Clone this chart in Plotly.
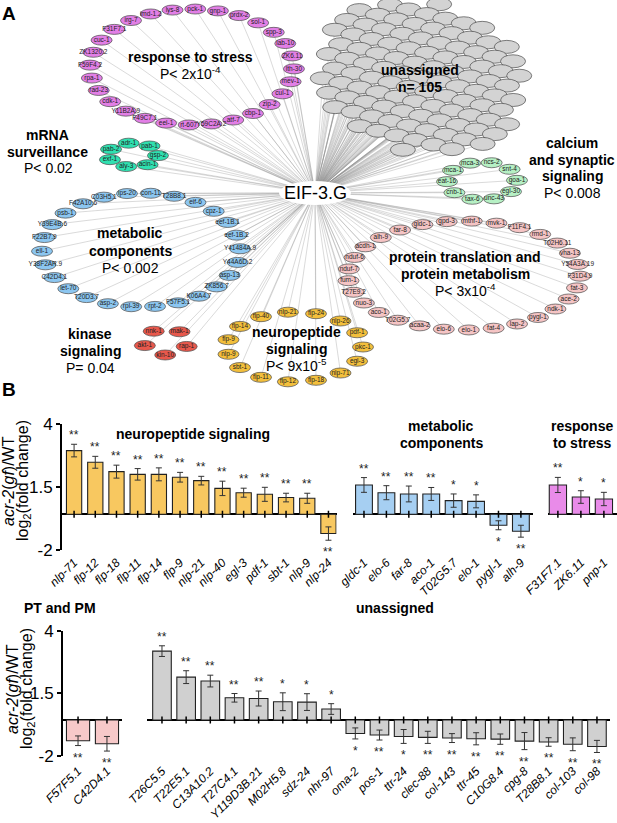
import math
import plotly.graph_objects as go

W, H = 617, 823

# ---------------- panel A : gene groups (clockwise round each ring) ----------------
stress_nodes = ["lys-8", "pck-1", "gnp-1", "prdx-2", "sol-1", "spp-3", "lab-10", "ZK6.11",
                "lth-30", "mev-1", "cul-1", "zip-2", "cbp-1", "atf-7", "Y59C2A.2", "rt-607",
                "eel-1", "F49C7.1", "Y11B2A.9", "cdk-1", "rad-23", "rpa-1", "F59F4.2",
                "ZK1320.2", "cuc-1", "F31F7.1", "irg-7", "imd-1.2"]
mrna_nodes = ["adr-1", "pab-1", "gsp-2", "acin-1", "aly-3", "exf-1", "pab-2"]
metab_nodes = ["C03H5.1", "ips-20", "con-11", "T28B8.1", "eif-6", "cpz-1", "eef-1B.1", "eef-1B.2",
               "Y41484A.9", "Y44A6D.2", "asp-13", "ZK856.7", "K06A4.7", "F57F5.1", "rpt-2",
               "rpl-39", "asp-2", "T20D3.7", "let-70", "C42D4.1", "Y38F2AR.9", "ell-1",
               "F22B7.9", "Y39E4B.6", "psb-1", "F42A10.6"]
kinase_nodes = ["nnk-1", "mak-1", "rap-1", "kin-10", "akt-1"]
neuro_nodes = ["flp-40", "nlp-21", "flp-24", "nlp-26", "pdf-1", "pkc-1", "egl-3", "nlp-71",
               "flp-18", "flp-12", "flp-11", "sbt-1", "nlp-9", "flp-9", "flp-14"]
calcium_nodes = ["mca-3", "ncs-2", "snt-4", "goa-1", "egl-30", "unc-43", "tax-6", "cnb-1",
                 "eat-16", "mca-1"]
protein_nodes = ["gldc-1", "gpd-3", "mthf-1", "mvk-1", "F11F4.1", "rmd-1", "T02H6.11", "vha-13",
                 "Y54A3A.19", "F31D4.9", "fat-3", "ace-2", "ndk-1", "pygl-1", "lap-2", "fat-4",
                 "elo-1", "elo-6", "acaa-2", "T02G5.7", "aco-1", "nuo-3", "T27E9.2", "fum-1",
                 "nduf-7", "nduf-6", "acdh-1", "alh-9", "far-8"]
n_unassigned = 105

# ---------------- panel B : log2 fold change, acr-2(gf) vs WT ----------------
neuro_genes = ["nlp-71", "flp-12", "flp-18", "flp-11", "flp-14", "flp-9", "nlp-21", "nlp-40",
               "egl-3", "pdf-1", "sbt-1", "nlp-9", "nlp-24"]
neuro_fc = [3.54, 2.89, 2.37, 2.22, 2.22, 2.06, 1.87, 1.44, 1.20, 1.11, 0.93, 0.89, -1.07]
neuro_err = [0.35, 0.33, 0.36, 0.32, 0.36, 0.27, 0.24, 0.40, 0.25, 0.39, 0.24, 0.28, 0.37]
neuro_sig = ["**", "**", "**", "**", "**", "**", "**", "**", "**", "**", "**", "**", "**"]

metab_genes = ["gldc-1", "elo-6", "far-8", "aco-1", "T02G5.7", "elo-1", "pygl-1", "alh-9"]
metab_fc = [1.63, 1.20, 1.13, 1.13, 0.76, 0.72, -0.61, -0.94]
metab_err = [0.41, 0.39, 0.44, 0.36, 0.37, 0.36, 0.25, 0.33]
metab_sig = ["**", "**", "**", "**", "*", "*", "*", "**"]

stress_genes = ["F31F7.1", "ZK6.11", "pnp-1"]
stress_fc = [1.63, 0.96, 0.85]
stress_err = [0.42, 0.35, 0.37]
stress_sig = ["**", "*", "*"]

ptpm_genes = ["F57F5.1", "C42D4.1"]
ptpm_fc = [-1.16, -1.33]
ptpm_err = [0.27, 0.41]
ptpm_sig = ["**", "**"]

unas_genes = ["T26C5.5", "T22E5.1", "C13A10.2", "T27C4.1", "Y119D3B.21", "M02H5.8", "sdz-24",
              "nhr-97", "oma-2", "pos-1", "ttr-24", "clec-88", "col-143", "ttr-45", "C10G8.4",
              "cpg-8", "T28B8.1", "col-103", "col-98"]
unas_fc = [3.87, 2.41, 2.19, 1.25, 1.21, 1.03, 1.01, 0.62, -0.75, -0.84, -0.92, -0.97, -1.01,
           -1.05, -1.07, -1.18, -1.23, -1.36, -1.48]
unas_err = [0.30, 0.36, 0.33, 0.24, 0.42, 0.50, 0.47, 0.30, 0.31, 0.28, 0.39, 0.34, 0.25, 0.34,
            0.29, 0.48, 0.24, 0.36, 0.34]
unas_sig = ["**", "**", "**", "**", "**", "*", "*", "*", "*", "**", "*", "**", "**", "**", "**",
            "**", "**", "**", "**"]

y_ticks = [-2, 1.5, 5]
y_ticktext = ["-2", "1.5", "4"]

FONT = "Liberation Sans, Arial, sans-serif"

fig = go.Figure()
shapes = []
annotations = []

# ---------- network layout (pixel-like coordinates) ----------
hub = (315, 193)
rings = [
    (stress_nodes, "#e27fe6", 192, 67, 102, 58, -101),
    (mrna_nodes, "#2fe0b0", 133, 155, 25, 12, -100),
    (metab_nodes, "#8cc6f0", 141, 250, 99, 57, -112),
    (kinase_nodes, "#e8584c", 166, 342, 22, 13, -124),
    (neuro_nodes, "#f3bf3c", 295, 347, 68, 35, -120),
    (calcium_nodes, "#b6f0c4", 482, 181, 35, 19, -110),
    (protein_nodes, "#f5c4c4", 464, 275.5, 116, 54.5, -111),
]

nodes = []  # (x, y, label, color, w, h)
for names, col, cx, cy, rx, ry, t0 in rings:
    step = 360.0 / len(names)
    for k, nm in enumerate(names):
        t = math.radians(t0 + k * step)
        nodes.append((cx + rx * math.cos(t), cy + ry * math.sin(t), nm, col, 21, 10))

# unassigned blob: hex packing inside a tilted ellipse
ucx, ucy, urx, ury, phi = 421, 77, 100, 73, math.radians(14)
cand = []
for r in range(-9, 10):
    for c in range(-9, 10):
        gx = c * 19 + (r % 2) * 9.5
        gy = r * 12.5
        cand.append(((gx / urx) ** 2 + (gy / ury) ** 2, gx, gy))
cand.sort()
grey = []
for d, gx, gy in cand[:n_unassigned]:
    x = ucx + gx * math.cos(phi) - gy * math.sin(phi)
    y = ucy + gx * math.sin(phi) + gy * math.cos(phi)
    grey.append((x, y, "", "#d3d3d3", 25, 13))
grey.sort(key=lambda p: p[1])

all_nodes = grey + nodes

# edges from EIF-3.G to every node
path = ""
for x, y, *_ in all_nodes:
    path += "M%.1f,%.1f L%.1f,%.1f " % (hub[0], hub[1], x, y)
shapes.append(dict(type="path", path=path, xref="x", yref="y", layer="below",
                   line=dict(color="rgba(140,140,140,0.6)", width=0.55)))

for x, y, nm, col, w, h in all_nodes:
    shapes.append(dict(type="circle", xref="x", yref="y", layer="below",
                       x0=x - w / 2, x1=x + w / 2, y0=y - h / 2, y1=y + h / 2,
                       fillcolor=col, line=dict(color="#4a4a4a", width=0.7)))

shapes.append(dict(type="circle", xref="x", yref="y", layer="below",
                   x0=hub[0] - 36, x1=hub[0] + 36, y0=hub[1] - 12, y1=hub[1] + 12,
                   fillcolor="white", line=dict(width=0)))

fig.add_trace(go.Scatter(x=[n[0] for n in nodes], y=[n[1] for n in nodes], mode="text",
                         text=[n[2] for n in nodes], textfont=dict(size=6.5, color="#222"),
                         xaxis="x", yaxis="y", hoverinfo="skip", showlegend=False))


def label(lines, x, y0, size=14, bold=True, gap=16.5, ref="x"):
    for i, t in enumerate(lines):
        txt = "<b>%s</b>" % t if bold else t
        if ref == "x":
            pos = dict(x=x, y=y0 + i * gap, xref="x", yref="y")
        else:
            pos = dict(x=x / W, y=1 - (y0 + i * gap) / H, xref="paper", yref="paper")
        annotations.append(dict(text=txt, showarrow=False, xanchor="center", yanchor="middle",
                                font=dict(size=size, color="black"), **pos))


label(["response to stress"], 190, 57)
label(["P< 2x10<sup>-4</sup>"], 190, 73, bold=False)
label(["mRNA", "surveillance"], 47, 135)
label(["P< 0.02"], 48, 168, bold=False)
label(["metabolic", "components"], 130, 233, gap=17.5)
label(["P< 0.002"], 130, 268, bold=False)
label(["kinase", "signaling"], 90, 334)
label(["P= 0.04"], 90, 368, bold=False)
label(["neuropeptide", "signaling"], 296, 332)
label(["P< 9x10<sup>-5</sup>"], 296, 365, bold=False)
label(["unassigned", "n= 105"], 420, 70)
label(["calcium", "and synaptic", "signaling"], 572, 143)
label(["P< 0.008"], 572, 193, bold=False)
label(["protein translation and", "protein metabolism"], 465, 257)
label(["P< 3x10<sup>-4</sup>"], 465, 290, bold=False)
annotations.append(dict(text="EIF-3.G", x=hub[0], y=hub[1], xref="x", yref="y",
                        showarrow=False, font=dict(size=18, color="black")))
label(["A"], 9, 14, size=19, ref="paper")
label(["B"], 9, 389, size=19, ref="paper")

# ---------- bar panels ----------
BAR_LINE = dict(color="#222", width=1.1)


def bar_panel(names, vals, errs, sigs, color, n, width):
    xa, ya = "x%d" % n, "y%d" % n
    fig.add_trace(go.Bar(x=names, y=vals, width=width, xaxis=xa, yaxis=ya,
                         marker=dict(color=color, line=BAR_LINE),
                         error_y=dict(type="data", array=errs, color="#333",
                                      thickness=1, width=3),
                         hoverinfo="skip", showlegend=False))
    fig.add_trace(go.Scatter(x=names, y=[0] * len(names), mode="markers", xaxis=xa, yaxis=ya,
                             marker=dict(symbol="line-ns", size=5,
                                         line=dict(color="black", width=1.5)),
                             hoverinfo="skip", showlegend=False))
    for g, v, e, s in zip(names, vals, errs, sigs):
        up = v > 0
        annotations.append(dict(text=s, x=g, y=v + e if up else v - e, xref=xa, yref=ya,
                                showarrow=False, xanchor="center",
                                yanchor="bottom" if up else "top",
                                yshift=0 if up else -3,
                                font=dict(size=12, color="#222")))


bar_panel(neuro_genes, neuro_fc, neuro_err, neuro_sig, "#f8c860", 2, 0.72)
bar_panel(metab_genes, metab_fc, metab_err, metab_sig, "#a6cff2", 3, 0.75)
bar_panel(stress_genes, stress_fc, stress_err, stress_sig, "#e98be9", 4, 0.75)
bar_panel(ptpm_genes, ptpm_fc, ptpm_err, ptpm_sig, "#f7c9c9", 5, 0.8)
bar_panel(unas_genes, unas_fc, unas_err, unas_sig, "#d0d0d0", 6, 0.77)


def xax(names, px0, px1, r0, r1, anchor, standoff):
    return dict(domain=[px0 / W, px1 / W], range=[r0, r1], anchor=anchor,
                tickmode="array", tickvals=names, ticktext=["<i>%s</i>" % g for g in names],
                tickangle=-45, tickfont=dict(size=12, color="black"), automargin=False,
                ticklabelstandoff=standoff,
                showline=False, ticks="", showgrid=False, zeroline=False, fixedrange=True)


def yax(top, bottom, anchor, show):
    d = dict(domain=[1 - bottom / H, 1 - top / H], range=[-2, 5], anchor=anchor,
             showgrid=False, zeroline=True, zerolinecolor="black", zerolinewidth=2,
             fixedrange=True, automargin=False)
    if show:
        d.update(tickmode="array", tickvals=y_ticks, ticktext=y_ticktext,
                 tickfont=dict(size=17, color="black"), showline=True, linecolor="black",
                 linewidth=2, ticks="outside", ticklen=4, tickwidth=1.5, tickcolor="black")
    else:
        d.update(showticklabels=False, showline=False, ticks="")
    return d


TOP, BOT = (424.3, 550.3), (631.0, 755.7)

layout_axes = dict(
    xaxis=dict(domain=[0, 1], range=[0, W], visible=False, fixedrange=True, automargin=False),
    yaxis=dict(domain=[1 - 400 / H, 1], range=[400, 0], visible=False, fixedrange=True,
               automargin=False),
    xaxis2=xax(neuro_genes, 62, 336.5, -0.57, 12.38, "y2", 2),
    yaxis2=yax(*TOP, "x2", True),
    xaxis3=xax(metab_genes, 353, 533, -0.49, 7.54, "y3", 2),
    yaxis3=yax(*TOP, "x3", False),
    xaxis4=xax(stress_genes, 548, 617, -0.43, 2.57, "y4", 2),
    yaxis4=yax(*TOP, "x4", False),
    xaxis5=xax(ptpm_genes, 63, 122, -0.52, 1.52, "y5", 5),
    yaxis5=yax(*BOT, "x5", True),
    xaxis6=xax(unas_genes, 147, 610, -0.62, 18.54, "y6", 5),
    yaxis6=yax(*BOT, "x6", False),
)

# bar panel titles
label(["neuropeptide signaling"], 193, 434, ref="paper")
label(["metabolic", "components"], 441, 426, gap=17, ref="paper")
label(["response", "to stress"], 582, 426, gap=17, ref="paper")
label(["PT and PM"], 60, 608, ref="paper")
label(["unassigned"], 395, 608, ref="paper")

# y titles
for yc, x1, x2 in ((481, 8, 23), (689, 12, 27)):
    annotations.append(dict(text="<i>acr-2</i>(<i>gf</i>)/WT", x=x1 / W, y=1 - yc / H,
                            xref="paper", yref="paper", textangle=-90, showarrow=False,
                            xanchor="center", yanchor="middle",
                            font=dict(size=16, color="black")))
    annotations.append(dict(text="log<sub>2</sub>(fold change)", x=x2 / W, y=1 - yc / H,
                            xref="paper", yref="paper", textangle=-90, showarrow=False,
                            xanchor="center", yanchor="middle",
                            font=dict(size=16, color="black")))

fig.update_layout(
    width=W, height=H, autosize=False,
    margin=dict(l=0, r=0, t=0, b=0, pad=0, autoexpand=False),
    paper_bgcolor="white", plot_bgcolor="rgba(0,0,0,0)",
    font=dict(family=FONT, color="black"),
    showlegend=False, bargap=0.2,
    shapes=shapes, annotations=annotations,
    **layout_axes,
)

fig.write_html("out.html", config=dict(displayModeBar=False),
               post_script="document.body.style.margin='0';")
